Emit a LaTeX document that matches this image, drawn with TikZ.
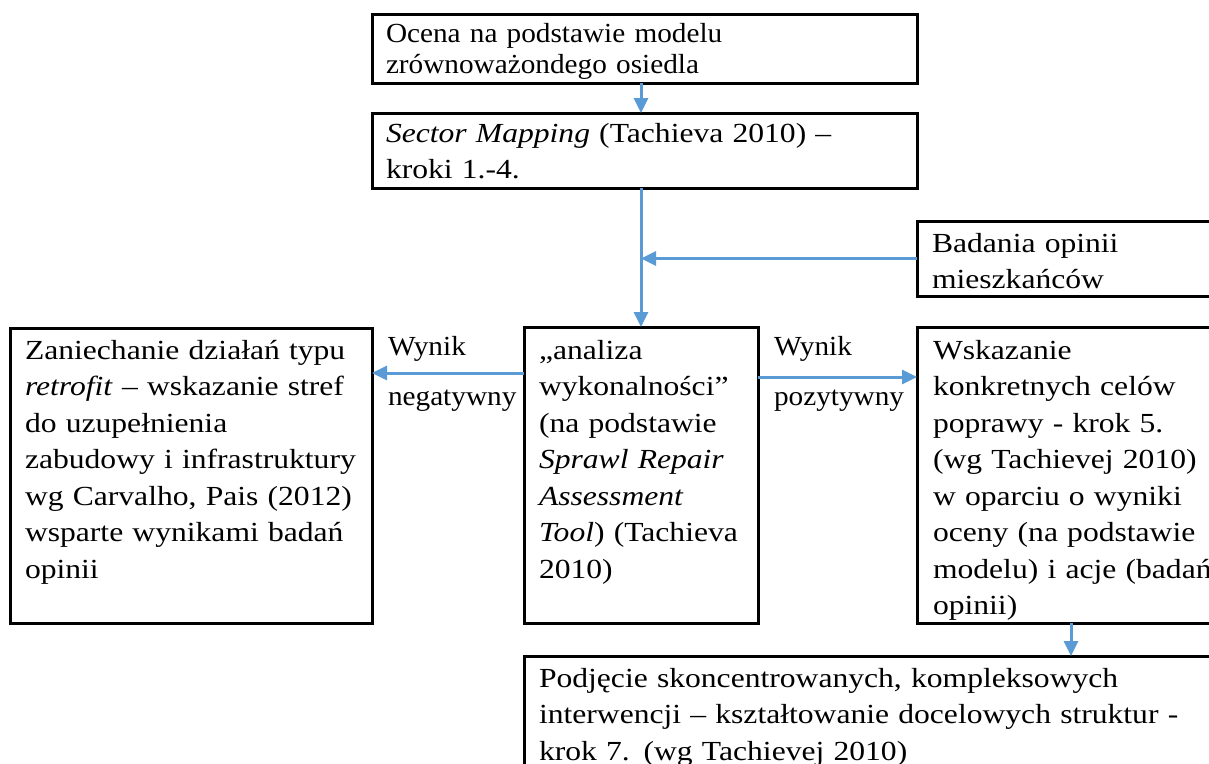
\documentclass[tikz,border=0pt]{standalone}
\usepackage{fontspec}
\setmainfont[FakeStretch=1.06]{Liberation Serif}
\newfontfamily\widefont[FakeStretch=1.145]{Liberation Serif}
\usetikzlibrary{arrows.meta}
\definecolor{arrowblue}{HTML}{5B9BD5}
\tikzset{
  box/.style={draw=black, line width=3pt, rectangle, anchor=north west, inner sep=0pt, outer sep=0pt},
  txt/.style={anchor=base west, inner sep=0pt, outer sep=0pt, align=left,
    font={\widefont\fontsize{27.6}{36.5}\selectfont}},
  txtsingle/.style={txt, font={\rmfamily\fontsize{27.6}{31.5}\selectfont}},
  lbl/.style={txt, font={\rmfamily\fontsize{27.6}{50}\selectfont}},
  arr/.style={draw=arrowblue, line width=3pt, -{Triangle[length=15pt,width=14pt]}}
}
\begin{document}
\begin{tikzpicture}[x=1pt,y=-1pt]
\useasboundingbox (0,0) rectangle (1209,763);
\clip (0,0) rectangle (1209,763);
% boxes
\node[box, minimum width=545pt, minimum height=69pt] (b1) at (372,14) {};
\node[box, minimum width=545pt, minimum height=75pt] (b2) at (372,113) {};
\node[box, minimum width=310pt, minimum height=75pt] (bad) at (917,221) {};
\node[box, minimum width=362pt, minimum height=295pt] (lft) at (10,328) {};
\node[box, minimum width=234pt, minimum height=296pt] (ctr) at (524,327) {};
\node[box, minimum width=308pt, minimum height=296pt] (rgt) at (917,327) {};
\node[box, minimum width=720pt, minimum height=120pt] (bot) at (524,656) {};
% texts
\node[txtsingle, text width=520pt] (t1) at (386,42) {Ocena na podstawie modelu\\zrównoważondego osiedla};
\node[txt, text width=520pt] (t2) at (386,142) {\textit{Sector Mapping} (Tachieva 2010) –\\kroki 1.-4.};
\node[txt, text width=290pt] (tbad) at (932,252) {Badania opinii\\mieszkańców};
\node[txt, text width=345pt] (tl) at (25,359) {Zaniechanie działań typu\\\textit{retrofit} – wskazanie stref\\do uzupełnienia\\zabudowy i infrastruktury\\wg Carvalho, Pais (2012)\\wsparte wynikami badań\\opinii};
\node[txt, text width=218pt] (tc) at (539,359) {„analiza\\wykonalności”\\(na podstawie\\\textit{Sprawl Repair}\\\textit{Assessment}\\\textit{Tool}) (Tachieva\\2010)};
\node[txt, text width=300pt] (tr) at (933,359) {Wskazanie\\konkretnych celów\\poprawy - krok 5.\\(wg Tachievej 2010)\\w oparciu o wyniki\\oceny (na podstawie\\modelu) i acje (badań\\opinii)};
\node[txt, text width=700pt] (tb) at (539,687) {Podjęcie skoncentrowanych, kompleksowych\\interwencji – kształtowanie docelowych struktur -\\krok 7. (wg Tachievej 2010)};
\node[lbl, text width=130pt] (neg) at (388,355) {Wynik\\negatywny};
\node[lbl, text width=135pt] (poz) at (774,355) {Wynik\\pozytywny};
% connectors
\coordinate (ny) at (0,373);
\coordinate (py) at (0,377);
\draw[arr] (ctr.north |- b1.south) -- (ctr.north |- b2.north);
\draw[arr] (ctr.north |- b2.south) -- (ctr.north);
\draw[arr] (bad.west) -- (bad.west -| ctr.north);
\draw[arr] (ctr.west |- ny) -- (lft.east |- ny);
\draw[arr] (ctr.east |- py) -- (rgt.west |- py);
\draw[arr] (rgt.south) -- (rgt.south |- bot.north);
\end{tikzpicture}
\end{document}
